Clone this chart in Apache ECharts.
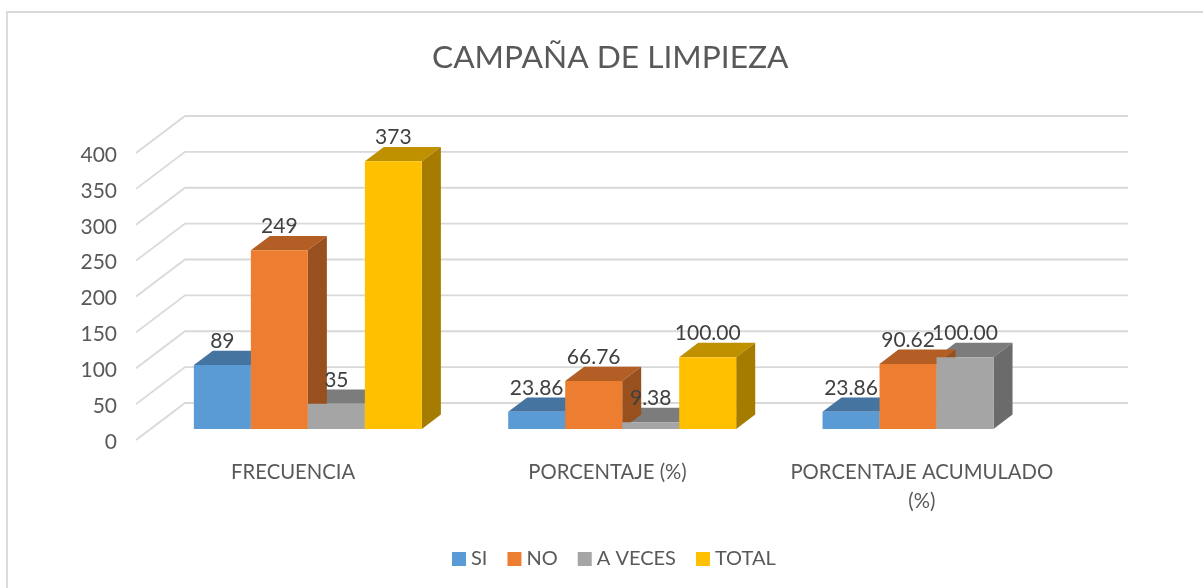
<!DOCTYPE html>
<html><head><meta charset="utf-8">
<style>html,body{margin:0;padding:0;background:#fff}#c{width:1203px;height:588px}</style>
<script src="https://cdn.jsdelivr.net/npm/echarts@6/dist/echarts.min.js"></script>
</head><body><div id="c"></div>
<script>
const titleText = 'CAMPAÑA DE LIMPIEZA';
const categories = ['FRECUENCIA', 'PORCENTAJE (%)', 'PORCENTAJE ACUMULADO\n(%)'];
const seriesNames = ['SI', 'NO', 'A VECES', 'TOTAL'];
const siValues = [89, 23.86, 23.86];
const noValues = [249, 66.76, 90.62];
const aVecesValues = [35, 9.38, 100];
const totalValues = [373, 100, null];
const valueTicks = [0, 50, 100, 150, 200, 250, 300, 350, 400];
const faceColors = ['#5B9BD5', '#ED7D31', '#A5A5A5', '#FFC000'];
const topColors = ['#44749F', '#B25E25', '#7C7C7C', '#BF9000'];
const sideColors = ['#3B658B', '#99501F', '#6B6B6B', '#A67C00'];

const FONT = 'Lato';
const WALL_DX = 49, WALL_DY = 37;      // floor depth projected on screen
const FRONT_T = 0.3, BAR_T = 0.388;    // bar front position and bar depth as floor fractions
const BAR_FRAC = 57 / 314.33;          // bar width / category band

const chart = echarts.init(document.getElementById('c'));

function gridItem(params, api) {
  const cs = params.coordSys;
  const y = api.coord([0, api.value(1)])[1];
  return { type: 'polyline', silent: true, z2: 0,
    shape: { points: [[cs.x, y], [cs.x + WALL_DX, y - WALL_DY], [cs.x + cs.width + WALL_DX, y - WALL_DY]] },
    style: { stroke: '#D9D9D9', lineWidth: 1.8, fill: null } };
}

function barRenderer(si) {
  return function (params, api) {
    const v = api.value(1), c = api.value(0);
    const band = api.size([1, 0])[0];
    const w = band * BAR_FRAC;
    const center = api.coord([c, 0])[0];
    const ox = WALL_DX * FRONT_T, oy = WALL_DY * FRONT_T;
    const dx = WALL_DX * BAR_T, dy = WALL_DY * BAR_T;
    const x0 = center + ox + (si - 2) * w, x1 = x0 + w;
    const yb = api.coord([c, 0])[1] - oy, yt = api.coord([c, v])[1] - oy;
    const backLayer = 10 - si;
    const labelText = c === 0 ? String(v) : v.toFixed(2);
    return { type: 'group', silent: true, children: [
      { type: 'polygon', z2: backLayer * 2, shape: { points: [[x0, yt], [x1, yt], [x1 + dx, yt - dy], [x0 + dx, yt - dy]] },
        style: { fill: topColors[si] } },
      { type: 'polygon', z2: backLayer * 2, shape: { points: [[x1, yt], [x1 + dx, yt - dy], [x1 + dx, yb - dy], [x1, yb]] },
        style: { fill: sideColors[si] } },
      { type: 'rect', z2: 50, shape: { x: x0, y: yt, width: w, height: yb - yt },
        style: { fill: faceColors[si] } },
      { type: 'text', z2: 100, style: { text: labelText, x: (x0 + x1) / 2, y: yt - 24,
          align: 'center', verticalAlign: 'middle', fontFamily: FONT, fontSize: 21, fill: '#404040' } }
    ] };
  };
}

const valueLists = [siValues, noValues, aVecesValues, totalValues];
const barSeries = seriesNames.map((name, si) => ({
  name, type: 'custom', coordinateSystem: 'cartesian2d', clip: false, silent: true,
  itemStyle: { color: faceColors[si] }, encode: { x: 0, y: 1 },
  renderItem: barRenderer(si),
  data: valueLists[si].map((v, i) => [i, v]).filter(d => d[1] !== null)
}));

chart.setOption({
  animation: false,
  backgroundColor: '#fff',
  title: { text: titleText, left: 427, top: 37,
    textStyle: { fontFamily: FONT, fontSize: 31.7, fontWeight: 'normal', color: '#595959' } },
  legend: { data: seriesNames, left: 447, top: 544, icon: 'rect', itemWidth: 14, itemHeight: 14, itemGap: 20,
    selectedMode: false, textStyle: { fontFamily: FONT, fontSize: 20, color: '#595959' } },
  grid: { left: 136, top: 153, width: 943, height: 287 },
  xAxis: { type: 'category', data: categories,
    axisLine: { show: false }, axisTick: { show: false }, splitLine: { show: false },
    axisLabel: { interval: 0, margin: 18, fontFamily: FONT, fontSize: 20.3, lineHeight: 29, color: '#595959' } },
  yAxis: { type: 'value', min: 0, max: 400, interval: 50,
    axisLine: { show: false }, axisTick: { show: false }, splitLine: { show: false },
    axisLabel: { margin: 19, formatter: '{v|{value}}',
      rich: { v: { fontFamily: FONT, fontSize: 21, color: '#595959', padding: [4, 0, 0, 0] } } } },
  graphic: [
    { type: 'polyline', silent: true, shape: { points: [[7, 588], [7, 12], [1203, 12]] },
      style: { stroke: '#D9D9D9', lineWidth: 1.8, fill: null } }
  ],
  series: [
    { type: 'custom', name: 'walls', coordinateSystem: 'cartesian2d', clip: false, silent: true,
      encode: { x: 0, y: 1 }, renderItem: gridItem, data: valueTicks.map(t => [0, t]) }
  ].concat(barSeries)
});
</script></body></html>
